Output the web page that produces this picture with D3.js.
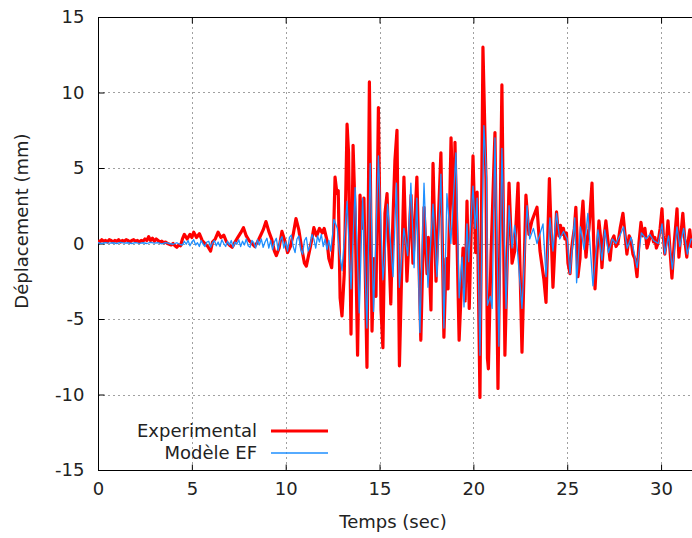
<!DOCTYPE html>
<html><head><meta charset="utf-8">
<script src="https://cdn.jsdelivr.net/npm/d3@7"></script>
<style>
body{margin:0;background:#fff;}
text{font-family:"DejaVu Sans",sans-serif;}
</style></head>
<body>
<script>
// Experimental (red) — time (s) and displacement (mm)
const expT = [0.0,0.1,0.2,0.3,0.4,0.5,0.6,0.7,0.8,0.9,1.0,1.1,1.2,1.3,1.4,1.5,1.6,1.7,1.8,1.9,2.0,2.1,2.2,2.3,2.4,2.5,2.6,2.7,2.8,2.9,3.0,3.1,3.2,3.3,3.4,3.5,3.6,3.7,3.8,3.9,4.0,4.1,4.2,4.3,4.4,
4.5,4.6,4.75,4.9,5.0,5.1,5.25,5.4,5.55,5.7,5.85,6.0,6.1,6.25,6.4,6.55,6.7,6.85,7.0,7.15,7.3,7.45,7.6,7.75,7.9,8.05,8.2,8.35,8.5,8.65,8.8,8.95,9.1,9.25,9.4,9.5,9.65,9.8,9.95,10.1,10.25,10.4,10.55,10.7,10.85,11.0,11.1,11.25,11.4,11.5,11.65,11.8,11.95,12.05,12.2,12.3,12.45,12.55,
12.63,12.73,12.8,12.9,13.0,13.12,13.27,13.35,13.48,13.59,13.7,13.83,13.96,14.06,14.17,14.33,14.46,14.6,14.7,14.81,14.94,15.08,15.18,15.29,15.4,15.5,15.6,15.7,15.82,15.93,16.06,16.3,16.46,16.68,16.78,16.99,17.2,17.37,17.53,17.6,17.74,17.85,18.01,18.27,18.43,18.55,18.65,18.81,18.97,19.02,19.24,19.45,19.56,19.66,19.78,19.98,20.12,20.2,20.35,20.51,20.67,20.75,20.8,20.94,21.15,21.31,21.52,21.68,21.9,22.06,22.2,22.38,22.59,22.8,22.96,23.12,23.39,23.55,23.76,23.87,24.05,24.24,24.43,
24.5,24.56,24.64,24.72,24.8,24.88,24.96,25.04,25.15,25.22,25.3,25.38,25.46,25.52,25.57,25.68,25.76,25.84,25.92,26.0,26.08,26.16,26.24,26.32,26.4,26.48,26.56,26.69,26.77,26.85,26.95,27.06,27.15,27.28,27.38,27.49,27.6,27.7,27.82,27.97,28.08,28.18,28.3,28.4,28.5,28.6,28.72,28.82,28.93,29.03,29.14,29.25,29.36,29.5,29.6,29.67,29.75,29.83,29.95,30.05,30.12,30.2,30.3,30.37,30.48,30.58,30.7,30.78,30.85,30.95,31.05,31.16,31.26,31.37,31.45,31.53,31.62,31.7,31.8,31.9];
const expV = [0.2,0.1,0.25,0.15,0.2,0.1,0.25,0.2,0.1,0.2,0.15,0.25,0.1,0.2,0.15,0.25,0.2,0.1,0.2,0.25,0.15,0.2,0.1,0.2,0.15,0.3,0.2,0.45,0.2,0.35,0.15,0.3,0.2,0.1,0.15,0.05,0.1,0.0,-0.05,-0.1,0.0,-0.15,-0.25,-0.1,-0.15,
0.3,0.6,0.3,0.6,0.4,0.75,0.4,0.65,0.2,0.0,-0.2,-0.5,0.1,0.3,0.75,0.4,0.55,0.1,-0.1,-0.25,0.1,0.4,0.7,1.05,0.5,0.2,0.0,-0.2,0.1,0.5,0.9,1.45,0.8,0.3,-0.5,-0.8,-0.3,0.8,0.2,-0.6,-0.2,0.6,1.65,0.9,-0.3,-1.3,-1.5,-0.6,0.3,1.05,0.5,1.0,0.7,1.0,0.2,-1.0,-1.6,0.5,
4.4,3.3,3.5,-3.6,-4.8,-2.0,7.9,6.0,-6.0,6.5,2.0,-7.4,3.2,1.0,3.0,-8.2,10.7,-5.8,-1.0,-3.5,9.0,-4.4,-6.9,2.0,3.3,-0.5,-4.0,1.0,5.5,7.5,-8.1,4.4,-2.5,3.2,-1.3,4.4,-6.4,2.4,-2.0,0.4,-4.4,5.3,-2.5,6.0,-6.2,-1.0,-3.0,7.0,0.0,6.7,-6.4,-0.3,-3.8,2.8,-4.3,5.8,-0.6,3.4,-10.2,13.0,4.3,-7.6,-8.3,-0.8,7.35,-9.6,10.5,-7.4,4.0,-1.3,-0.5,4.0,-7.2,3.2,0.6,1.5,2.4,-0.5,-2.4,-3.9,4.3,-2.9,2.1,
1.0,0.5,1.2,0.6,1.0,0.3,0.7,-1.3,-2.0,-0.5,0.3,1.0,2.4,0.5,-2.2,-1.0,1.5,2.8,0.8,-0.9,0.3,1.0,2.5,4.0,0.5,-3.0,-1.2,1.5,0.5,-1.6,0.3,1.5,0.4,-1.1,0.2,0.5,-0.2,0.0,1.0,2.0,0.6,-0.7,0.5,0.2,-0.7,-1.0,-2.2,0.0,1.4,0.5,1.0,-0.3,0.2,0.8,0.1,0.4,-0.3,0.0,1.0,2.3,0.5,-0.7,0.4,1.5,-0.5,-2.3,0.0,1.2,2.3,-0.9,0.5,2.0,0.3,-0.9,0.2,0.9,-0.2,0.2,-0.3,0.5];

// Modèle EF (blue)
const efT = [0,0.2,0.4,0.6,0.8,1.0,1.2,1.4,1.6,1.8,2.0,2.2,2.4,2.6,2.8,3.0,3.2,3.4,3.6,3.8,4.0,4.2,4.4,
4.5,4.6,4.7,4.8,4.9,5.0,5.1,5.2,5.3,5.4,5.5,5.6,5.7,5.8,5.9,6.0,6.1,6.2,6.3,6.4,6.5,6.6,6.7,6.8,6.9,7.0,7.1,7.2,7.3,7.4,7.5,7.6,7.7,7.8,7.9,8.0,8.1,8.2,8.3,8.4,8.5,8.6,8.7,8.8,8.9,9.0,9.1,9.2,9.3,9.4,9.5,9.6,9.7,9.8,9.9,10.0,10.1,10.2,10.3,10.4,10.5,10.6,10.7,10.8,10.9,11.0,11.1,11.2,11.3,11.4,11.5,11.6,11.7,11.8,11.9,12.0,12.1,12.2,12.3,12.4,12.5,
12.57,12.75,12.85,13.0,13.27,13.48,13.7,13.92,14.1,14.33,14.5,14.68,14.94,15.18,15.3,15.43,15.72,15.9,16.06,16.3,16.5,16.67,16.84,16.99,17.15,17.37,17.58,17.85,18.06,18.27,18.43,18.59,18.8,19.07,19.24,19.4,19.5,19.66,19.75,19.85,19.98,20.1,20.2,20.35,20.56,20.7,20.75,20.9,21.0,21.15,21.36,21.52,21.74,21.9,22.06,22.2,22.35,22.59,22.86,23.0,23.2,23.39,23.71,23.87,24.08,24.24,24.43,24.6,24.8,25.0,25.15,25.4,25.5,25.7,25.9,26.1,26.37,26.64,26.85,27.0,27.2,27.4,27.6,27.8,28.0,28.2,28.4,28.55,28.72,28.95,29.2,29.4,29.6,29.85,30.05,30.2,30.4,30.6,30.85,31.0,31.2,31.4,31.6,31.9];
const efV = [0.05,0.0,0.06,0.02,0.05,0.0,0.07,0.02,0.05,0.0,0.06,0.01,0.05,0.0,0.08,0.02,0.05,-0.02,0.06,0.0,-0.05,0.05,-0.08,
-0.1,0.15,-0.05,0.2,-0.15,0.1,0.25,-0.1,0.05,-0.2,0.2,-0.05,-0.2,0.1,0.15,-0.25,0.05,0.2,-0.15,0.1,-0.2,0.25,0.0,-0.2,0.15,-0.1,0.2,-0.25,0.1,-0.05,0.25,-0.2,0.15,-0.1,0.3,-0.15,-0.25,0.2,0.05,-0.3,0.25,-0.1,0.3,-0.25,0.1,0.35,-0.3,0.2,-0.4,0.1,0.35,-0.45,0.2,0.45,-0.3,0.1,-0.5,0.4,0.55,-0.2,-0.6,0.3,0.5,-0.4,-0.7,0.2,0.4,-0.5,-0.2,0.6,0.3,-0.3,0.5,0.1,0.6,-0.2,0.3,-0.4,0.2,-0.5,0.6,
1.6,1.0,-0.4,-1.8,2.8,-3.0,3.7,-4.6,3.0,-5.6,5.3,-4.5,5.8,-2.4,-0.6,2.6,-2.2,4.0,-2.9,1.0,-0.8,4.0,-1.6,3.0,-5.9,4.0,-2.9,2.6,-2.2,4.6,-5.6,3.3,0.0,6.0,-3.6,-0.9,-4.2,1.3,-1.2,1.2,3.8,1.0,3.0,-7.4,7.8,4.4,-4.1,-3.5,-4.3,7.0,-6.8,6.3,-4.3,2.5,-0.3,1.2,-0.5,-4.3,2.5,0.3,1.0,0.0,1.3,-2.2,1.7,-0.5,2.0,0.3,0.8,0.3,-2.0,1.7,-2.6,1.1,-0.4,2.0,-2.8,0.9,-1.1,0.9,-0.6,0.3,0.0,0.5,1.1,-0.3,0.4,-0.5,-1.6,0.7,0.3,0.6,0.2,0.0,1.3,-0.7,0.5,-1.7,1.1,-0.2,1.0,-0.7,0.3,0.1];

const xTicks = [0,5,10,15,20,25,30];
const yTicks = [-15,-10,-5,0,5,10,15];
const seriesNames = ["Experimental","Modèle EF"];
const seriesColors = ["#ff0000","#1e8fff"];

const W = 692, H = 538;
const m = {left:98, top:17, bottom:470};
const x = d3.scaleLinear().domain([0,32]).range([m.left, m.left + 600.6]);
const y = d3.scaleLinear().domain([-15,15]).range([m.bottom, m.top]);

const svg = d3.select("body").append("svg").attr("width",W).attr("height",H);

svg.append("clipPath").attr("id","clip").append("rect")
  .attr("x",x(0)).attr("y",y(15)).attr("width",x(32)-x(0)).attr("height",y(-15)-y(15));

// grid
const grid = svg.append("g").attr("stroke","#a0a0a0").attr("stroke-width",1).attr("stroke-dasharray","2,3");
grid.selectAll(".gx").data(xTicks.filter(d=>d>0)).join("line")
  .attr("x1",d=>Math.round(x(d))+0.5).attr("x2",d=>Math.round(x(d))+0.5).attr("y1",y(15)).attr("y2",y(-15));
grid.selectAll(".gy").data(yTicks.filter(d=>d>-15 && d<15)).join("line")
  .attr("y1",d=>Math.round(y(d))+0.5).attr("y2",d=>Math.round(y(d))+0.5).attr("x1",x(0)).attr("x2",x(32));

// axes (ticks inward)
const fmt = d => String(d);
const axL = svg.append("g").attr("transform",`translate(${x(0)+0.5},0)`)
  .call(d3.axisLeft(y).tickValues(yTicks).tickSize(-6).tickPadding(14).tickFormat(fmt));
const axB = svg.append("g").attr("transform",`translate(0,${y(-15)+0.5})`)
  .call(d3.axisBottom(x).tickValues(xTicks).tickSize(-6).tickPadding(12).tickFormat(fmt));
const axT = svg.append("g").attr("transform",`translate(0,${y(15)+0.5})`)
  .call(d3.axisTop(x).tickValues(xTicks).tickSize(-6).tickFormat(""));
[axL,axB,axT].forEach(a=>{
  a.select(".domain").attr("stroke","#000").attr("stroke-width",1);
  a.selectAll(".tick line").attr("stroke","#000");
  a.selectAll("text").attr("font-size",18).attr("fill","#222").attr("font-family","DejaVu Sans");
});
axT.select(".domain").attr("d",`M${x(0)},0H${x(32)}`);
axL.select(".domain").attr("d",`M0,${y(-15)}V${y(15)}`);
axB.select(".domain").attr("d",`M${x(0)},0H${x(32)}`);

// lines
const line = d3.line().x(d=>x(d[0])).y(d=>y(d[1]));
const g = svg.append("g").attr("clip-path","url(#clip)");
g.append("path").datum(expT.map((t,i)=>[t,expV[i]]))
  .attr("d",line).attr("fill","none").attr("stroke",seriesColors[0]).attr("stroke-width",3.2).attr("stroke-linejoin","round");
g.append("path").datum(efT.map((t,i)=>[t,efV[i]]))
  .attr("d",line).attr("fill","none").attr("stroke",seriesColors[1]).attr("stroke-width",1.3).attr("stroke-linejoin","round");

// legend
const leg = svg.append("g");
seriesNames.forEach((n,i)=>{
  const yy = 431 + i*22;
  leg.append("text").attr("x",257).attr("y",yy).attr("dy","0.35em").attr("text-anchor","end")
    .attr("font-size",18).attr("fill","#222").text(n);
  leg.append("line").attr("x1",271).attr("x2",328).attr("y1",yy).attr("y2",yy)
    .attr("stroke",seriesColors[i]).attr("stroke-width",i===0?3:1.3);
});

// axis titles
svg.append("text").attr("x",393).attr("y",522).attr("dy","0.35em").attr("text-anchor","middle")
  .attr("font-size",18).attr("fill","#222").text("Temps (sec)");
svg.append("text").attr("transform","translate(22,221) rotate(-90)").attr("dy","0.35em").attr("text-anchor","middle")
  .attr("font-size",18).attr("fill","#222").text("Déplacement (mm)");
</script>
</body></html>
